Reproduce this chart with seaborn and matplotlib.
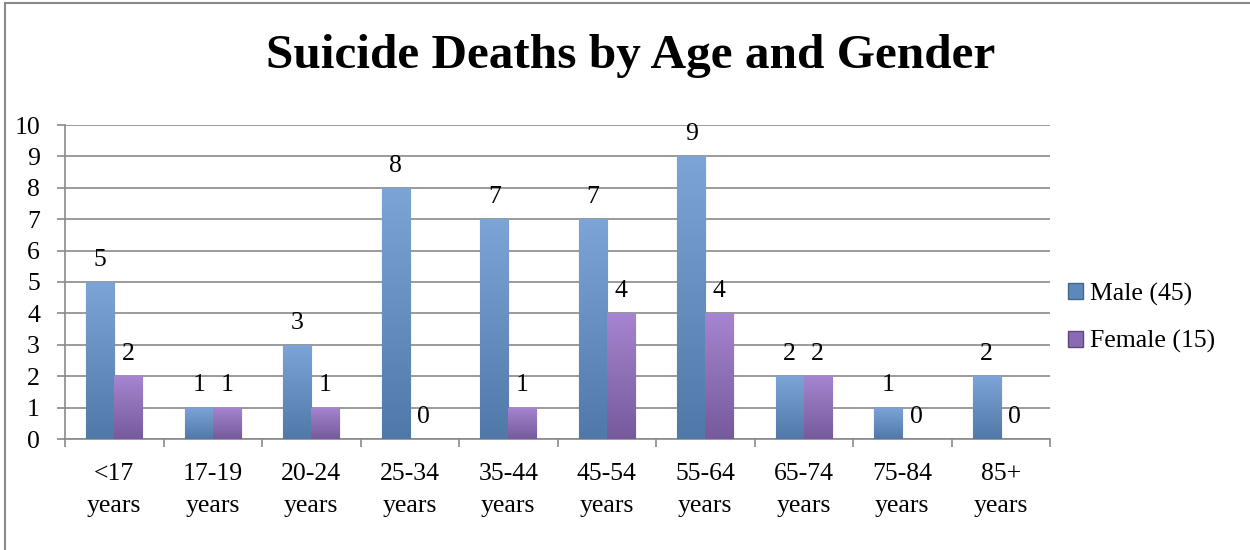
import numpy as np
import pandas as pd
import seaborn as sns
import matplotlib.pyplot as plt
from matplotlib.colors import LinearSegmentedColormap
from matplotlib.lines import Line2D
from matplotlib.patches import Patch

# Données
age_groups = ["<17\nyears", "17-19\nyears", "20-24\nyears", "25-34\nyears", "35-44\nyears",
              "45-54\nyears", "55-64\nyears", "65-74\nyears", "75-84\nyears", "85+\nyears"]
male = [5, 1, 3, 8, 7, 7, 9, 2, 1, 2]
female = [2, 1, 1, 0, 1, 4, 4, 2, 0, 0]
series_names = ["Male (45)", "Female (15)"]

df = pd.DataFrame({
    "age": age_groups * 2,
    "deaths": male + female,
    "gender": [series_names[0]] * len(male) + [series_names[1]] * len(female),
})

sns.set_style("white")
plt.rcParams["font.family"] = ["Liberation Serif", "DejaVu Serif"]
plt.rcParams["text.color"] = "black"
plt.rcParams["xtick.color"] = "black"
plt.rcParams["ytick.color"] = "black"

base_colors = {series_names[0]: "#5F88BA", series_names[1]: "#8A6AB3"}
grads = {
    series_names[0]: ("#5079A9", "#7CA4D6"),
    series_names[1]: ("#765A9D", "#A585CF"),
}
edges = {series_names[0]: "#41678F", series_names[1]: "#5E4582"}

fig = plt.figure(figsize=(12.5, 5.5), dpi=100)
ax = fig.add_axes([65 / 1250, 1 - 439 / 550, (1050 - 65) / 1250, (439 - 125) / 550])

sns.barplot(data=df, x="age", y="deaths", hue="gender", palette=base_colors,
            width=0.57, ax=ax, legend=False, errorbar=None, zorder=3)

ax.set_yticks(range(0, 11))
ax.yaxis.grid(True, color="#8a8a8a", linewidth=1.2, zorder=0)
ax.set_axisbelow(True)

# dégradé vertical dans chaque barre
for container, name in zip(ax.containers, series_names):
    cmap = LinearSegmentedColormap.from_list(name, grads[name])
    for patch in container:
        x0, y0 = patch.get_x(), patch.get_y()
        w, h = patch.get_width(), patch.get_height()
        patch.set_edgecolor(edges[name])
        patch.set_linewidth(0.8)
        if h <= 0:
            continue
        grad = np.linspace(0, 1, 100).reshape(-1, 1)
        im = ax.imshow(grad, cmap=cmap, origin="lower", aspect="auto",
                       extent=[x0, x0 + w, y0, y0 + h], zorder=3.5)
        im.set_clip_path(patch)
    ax.bar_label(container, padding=8, fontsize=18.5, zorder=5)

ax.set_xlim(-0.5, len(age_groups) - 0.5)
ax.set_ylim(0, 10)

ax.set_xlabel("")
ax.set_ylabel("")
ax.tick_params(axis="y", labelsize=18.5, length=6, width=1.2, color="#8a8a8a", pad=12, left=True)
ax.set_xticks(range(len(age_groups)))
ax.set_xticklabels(age_groups, fontsize=18.5, linespacing=1.6)
ax.set_xticks(np.arange(-0.5, len(age_groups), 1), minor=True)
ax.tick_params(axis="x", which="major", length=0, pad=17)
ax.tick_params(axis="x", which="minor", length=6, width=1.2, color="#8a8a8a", bottom=True)

for s in ["top", "right"]:
    ax.spines[s].set_visible(False)
for s in ["left", "bottom"]:
    ax.spines[s].set_color("#8a8a8a")
    ax.spines[s].set_linewidth(1.2)

handles = [Patch(facecolor=base_colors[n], edgecolor=edges[n]) for n in series_names]
fig.legend(handles, series_names, loc="center left", bbox_to_anchor=(1050 / 1250, 1 - 318 / 550),
           frameon=False, fontsize=18.5, handlelength=0.6, handleheight=0.6,
           handletextpad=0.25, labelspacing=0.95, borderpad=0.2)

fig.text(631 / 1250, 1 - 56 / 550, "Suicide Deaths by Age and Gender", ha="center", va="center",
         fontsize=35.5, fontweight="bold")

# cadre du graphique
fig.add_artist(Line2D([5 / 1250, 1], [1 - 3 / 550, 1 - 3 / 550], color="#8a8a8a", lw=1.5))
fig.add_artist(Line2D([5 / 1250, 5 / 1250], [0, 1 - 3 / 550], color="#8a8a8a", lw=1.5))

fig.savefig("out.png", dpi=100)
